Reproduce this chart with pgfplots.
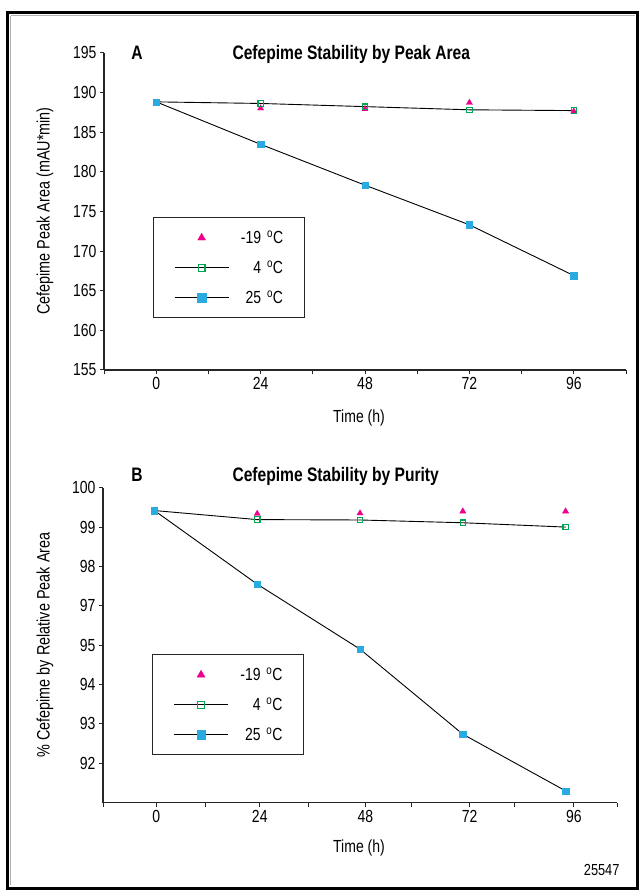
\documentclass[border=0pt]{standalone}
\usepackage{fontspec}
\setmainfont{Liberation Sans}[FakeStretch=0.8]
\usepackage{pgfplots}
\usepackage{pgfplotstable}
\pgfplotsset{compat=1.18}
\definecolor{cblue}{RGB}{41,171,226}
\definecolor{cgreen}{RGB}{0,166,81}
\definecolor{cpink}{RGB}{236,0,140}

\pgfplotstableread{
t    m19    p4     p25
0    188.6  188.8  188.8
24   188.0  188.6  183.45
48   187.9  188.2  178.3
72   188.7  187.8  173.3
96   187.6  187.7  166.9
}\tabA

\pgfplotstableread{
t    m19    p4     p25
0    99.38  99.42  99.42
24   99.34  99.19  97.55
48   99.35  99.18  94.90
72   99.40  99.11  92.74
96   99.40  99.00  91.30
}\tabB

\newcommand{\dg}{\textsuperscript{o}C}

\pgfplotsset{
  common/.style={
    scale only axis,
    axis x line*=bottom, axis y line*=left,
    axis line style={line width=1.1pt, black!85},
    tick align=outside,
    major tick length=4pt,
    tick style={line width=1pt, black!85},
    xmin=-12, xmax=108,
    extra x ticks={-12,12,36,60,84,108},
    extra x tick labels={},
    extra x tick style={major tick length=4.5pt},
    tick label style={font=\fontsize{17.5}{20}\selectfont},
    /pgf/number format/assume math mode=true,
    clip=false,
    legend style={draw=black!85, line width=1pt, fill=white, anchor=north west,
      inner xsep=21pt, inner ysep=5pt, row sep=0pt,
      nodes={inner sep=0pt, minimum height=30pt, text width=46pt, align=right,
        font=\fontsize{17.5}{20}\selectfont},
      /tikz/every odd column/.append style={column sep=8pt}},
    legend image code/.code={\draw[mark repeat=2,mark phase=2,##1] plot coordinates {(0pt,0pt) (27pt,0pt) (54pt,0pt)};},
  },
  tri/.style={only marks, mark=triangle*, mark size=3.6pt, mark options={fill=cpink, draw=cpink, line width=0.3pt}},
  gsq/.style={black, line width=0.9pt, mark=square, mark size=2.7pt, mark options={draw=cgreen, fill=white, line width=1.2pt}},
  bsq/.style={black, line width=0.9pt, mark=square*, mark size=3.2pt, mark options={draw=cblue, fill=cblue, line width=0.3pt}},
}

\begin{document}
\begin{tikzpicture}[x=1pt,y=1pt]
\useasboundingbox (0,0) rectangle (639,890);
\draw[line width=3pt] (7.5,877) rectangle (637.5,1.5);
\draw[line width=0.7pt, gray!60] (10.5,874.2) -- (634.5,874.2);
\draw[line width=0.7pt, gray!60] (10.5,874.2) -- (10.5,4.5);

% ---------------- Panel A
\begin{axis}[common,
  at={(104pt,520pt)}, anchor=south west,
  width=522pt, height=317.3pt,
  ymin=155, ymax=195, ytick={155,160,...,195},
  xtick={0,24,48,72,96},
  legend style={at={(rel axis cs:0.0933,0.4813)}},
]
\addlegendimage{tri, mark size=4.6pt}
\addlegendentry{\mbox{-19 \dg}}
\addlegendimage{gsq, mark size=3.4pt}
\addlegendentry{\mbox{4 \dg}}
\addlegendimage{bsq, mark size=4.2pt}
\addlegendentry{\mbox{25 \dg}}
\addplot[tri, forget plot] table[x=t, y=m19] {\tabA};
\addplot[gsq, forget plot] table[x=t, y=p4] {\tabA};
\addplot[bsq, forget plot] table[x=t, y=p25] {\tabA};
\end{axis}

% ---------------- Panel B
\begin{axis}[common,
  at={(103pt,87.3pt)}, anchor=south west,
  width=514pt, height=315pt,
  y coord trafo/.code={\pgfmathparse{#1<97 ? #1+1 : #1}},
  ymin=91, ymax=100,
  ytick={100,99,98,97,95,94,93,92},
  yticklabels={100,99,98,97,95,94,93,92},
  xtick={0.44,24.6,49.26,73.6,97.94},
  xticklabels={0,24,48,72,96},
  legend style={at={(rel axis cs:0.0955,0.4711)}},
]
\addlegendimage{tri, mark size=4.6pt}
\addlegendentry{\mbox{-19 \dg}}
\addlegendimage{gsq, mark size=3.4pt}
\addlegendentry{\mbox{4 \dg}}
\addlegendimage{bsq, mark size=4.2pt}
\addlegendentry{\mbox{25 \dg}}
\addplot[tri, forget plot] table[x=t, y=m19] {\tabB};
\addplot[gsq, forget plot] table[x=t, y=p4] {\tabB};
\addplot[bsq, forget plot] table[x=t, y=p25] {\tabB};
\end{axis}

% ---------------- texts
\node[font=\bfseries\fontsize{19.5}{22}\selectfont] at (137,837) {A};
\node[font=\bfseries\fontsize{19.5}{22}\selectfont, anchor=west] at (229,836) {Cefepime Stability by Peak Area};
\node[font=\bfseries\fontsize{19.5}{22}\selectfont] at (137,415) {B};
\node[font=\bfseries\fontsize{19.5}{22}\selectfont, anchor=west] at (229,414) {Cefepime Stability by Purity};
\node[font=\fontsize{18}{20}\selectfont, rotate=90] at (45,679) {Cefepime Peak Area (mAU*min)};
\node[font=\fontsize{18}{20}\selectfont, rotate=90] at (45,245) {\% Cefepime by Relative Peak Area};
\node[font=\fontsize{17.5}{20}\selectfont] at (359,472) {Time (h)};
\node[font=\fontsize{17.5}{20}\selectfont] at (359,42) {Time (h)};
\node[font=\fontsize{16}{18}\selectfont, anchor=east] at (623,20) {25547};
\end{tikzpicture}
\end{document}
